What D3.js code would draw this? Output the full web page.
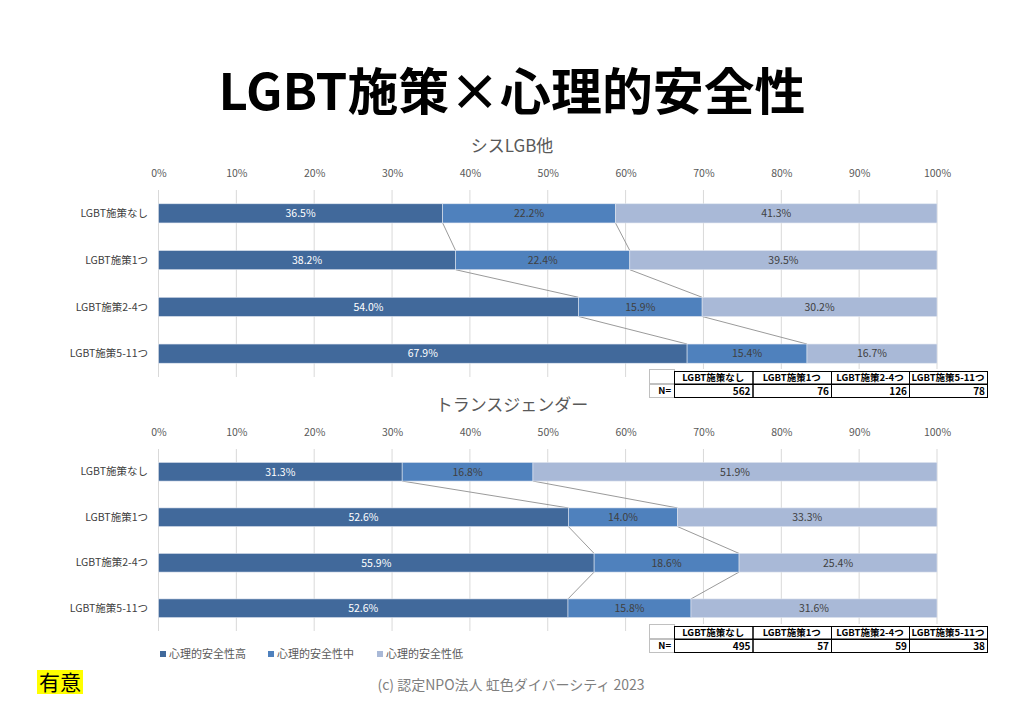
<!DOCTYPE html>
<html><head><meta charset="utf-8">
<script src="https://cdn.jsdelivr.net/npm/d3@7"></script>
<style>
body{margin:0;background:#fff;}
svg{display:block;}
text{font-family:"Noto Sans CJK JP","Noto Sans",sans-serif;}
</style></head>
<body><svg id="c" width="1024" height="726"></svg>
<script>
const categories = ["LGBT施策なし","LGBT施策1つ","LGBT施策2-4つ","LGBT施策5-11つ"];
const seriesNames = ["心理的安全性高","心理的安全性中","心理的安全性低"];
const cisHigh = [36.5,38.2,54.0,67.9];
const cisMid  = [22.2,22.4,15.9,15.4];
const cisLow  = [41.3,39.5,30.2,16.7];
const transHigh = [31.3,52.6,55.9,52.6];
const transMid  = [16.8,14.0,18.6,15.8];
const transLow  = [51.9,33.3,25.4,31.6];
const cisN = [562,76,126,78];
const transN = [495,57,59,38];
const tickValues = [0,10,20,30,40,50,60,70,80,90,100];
const colors = ["#41699B","#4F81BD","#A9B9D7"];

const svg = d3.select("#c");
const x = d3.scaleLinear().domain([0,100]).range([158.5,937]);

svg.append("text").attr("x",512).attr("y",88).attr("text-anchor","middle")
  .attr("dominant-baseline","central").attr("font-size",50).attr("font-weight",700)
  .attr("fill","#000").attr("textLength",587).attr("lengthAdjust","spacingAndGlyphs")
  .text("LGBT施策×心理的安全性");

function panel(title, titleY, tickY, top, bottom, high, mid, low, nvals, tableY){
  const g = svg.append("g");
  g.append("text").attr("x",512).attr("y",titleY).attr("text-anchor","middle")
    .attr("font-size",17).attr("fill","#595959").text(title);
  const y = d3.scaleBand().domain(categories).range([top,bottom]).paddingInner(0.59).paddingOuter(0.295);
  // gridlines
  g.append("g").selectAll("line").data(tickValues).join("line")
    .attr("x1",d=>x(d)).attr("x2",d=>x(d)).attr("y1",top).attr("y2",bottom)
    .attr("stroke","#d9d9d9").attr("stroke-width",1);
  // axis labels
  const ax = g.append("g").attr("transform",`translate(0,${tickY})`)
    .call(d3.axisTop(x).tickValues(tickValues).tickFormat(d=>d+"%").tickSize(0).tickPadding(0));
  ax.select(".domain").remove();
  ax.selectAll("text").attr("font-family",'"Noto Sans CJK JP",sans-serif').attr("font-size",10.5)
    .attr("fill","#595959").attr("dy","0.35em").attr("y",0);
  // y labels
  g.append("g").selectAll("text").data(categories).join("text")
    .attr("x",148).attr("y",d=>y(d)+y.bandwidth()/2).attr("dy","0.35em")
    .attr("text-anchor","end").attr("font-size",10.5).attr("fill","#404040").text(d=>d);
  // stacked rows
  const rows = categories.map((c,i)=>{
    const vals=[high[i],mid[i],low[i]];
    const s=d3.sum(vals);
    let acc=0;
    const segs=vals.map((v,k)=>{const a=acc; acc+=v*100/s; return {c,k,v,x0:a,x1:acc};});
    return segs;
  });
  // connector lines
  for(let i=0;i<rows.length-1;i++){
    for(let k=0;k<2;k++){
      g.append("line").attr("x1",x(rows[i][k].x1)).attr("y1",y(categories[i])+y.bandwidth())
        .attr("x2",x(rows[i+1][k].x1)).attr("y2",y(categories[i+1]))
        .attr("stroke","#8f8f8f").attr("stroke-width",0.9);
    }
  }
  const segs = rows.flat();
  g.append("g").selectAll("rect").data(segs).join("rect")
    .attr("x",d=>x(d.x0)).attr("width",d=>x(d.x1)-x(d.x0))
    .attr("y",d=>y(d.c)).attr("height",y.bandwidth())
    .attr("fill",d=>colors[d.k]).attr("stroke","#dfe5ef").attr("stroke-width",0.6);
  g.append("g").selectAll("text").data(segs).join("text")
    .attr("x",d=>x((d.x0+d.x1)/2)).attr("y",d=>y(d.c)+y.bandwidth()/2).attr("dy","0.36em")
    .attr("text-anchor","middle").attr("font-size",10.5)
    .attr("fill",d=>d.k===0?"#ffffff":"#404040").text(d=>d.v.toFixed(1)+"%");
  // table
  const t = g.append("g").attr("transform",`translate(0,${tableY})`);
  const colX=[649,674,752.5,831,909,987];
  const rowY=[0,15,29];
  t.append("rect").attr("x",colX[0]).attr("y",0).attr("width",colX[5]-colX[0]).attr("height",29).attr("fill","#fff");
  t.append("rect").attr("x",colX[0]+0.5).attr("y",0.5).attr("width",colX[1]-colX[0]).attr("height",14)
    .attr("fill","none").attr("stroke","#c0c0c0");
  t.append("rect").attr("x",colX[0]+0.5).attr("y",15.5).attr("width",colX[1]-colX[0]).attr("height",13)
    .attr("fill","none").attr("stroke","#c0c0c0");
  t.append("text").attr("x",colX[1]-3).attr("y",22).attr("dy","0.36em").attr("text-anchor","end")
    .attr("font-size",9.5).attr("font-weight",700).attr("fill","#000").text("N=");
  categories.forEach((c,i)=>{
    t.append("rect").attr("x",colX[i+1]+0.5).attr("y",2.5).attr("width",colX[i+2]-colX[i+1]).attr("height",12.5)
      .attr("fill","none").attr("stroke","#000");
    t.append("rect").attr("x",colX[i+1]+0.5).attr("y",15.5).attr("width",colX[i+2]-colX[i+1]).attr("height",13)
      .attr("fill","none").attr("stroke","#000");
    t.append("text").attr("x",(colX[i+1]+colX[i+2])/2).attr("y",9).attr("dy","0.36em").attr("text-anchor","middle")
      .attr("font-size",9.5).attr("font-weight",700).attr("fill","#000").text(c);
    t.append("text").attr("x",colX[i+2]-2).attr("y",22).attr("dy","0.36em").attr("text-anchor","end")
      .attr("font-size",10).attr("font-weight",700).attr("fill","#000").text(nvals[i]);
  });
}

panel("シスLGB他",152,173,190,377,cisHigh,cisMid,cisLow,cisN,369);
panel("トランスジェンダー",411,432,449,631,transHigh,transMid,transLow,transN,624);

// legend
const legX=[160,268,377];
const leg = svg.append("g").selectAll("g").data(seriesNames).join("g")
  .attr("transform",(d,i)=>`translate(${legX[i]},654)`);
leg.append("rect").attr("x",0).attr("y",-3).attr("width",6).attr("height",6).attr("fill",(d,i)=>colors[i]);
leg.append("text").attr("x",9).attr("y",0).attr("dy","0.36em").attr("font-size",11).attr("fill","#595959").text(d=>d);

svg.append("rect").attr("x",37).attr("y",670).attr("width",46).attr("height",24).attr("fill","#ffff00");
svg.append("text").attr("x",60).attr("y",682).attr("dy","0.36em").attr("text-anchor","middle")
  .attr("font-size",21).attr("fill","#000").text("有意");
svg.append("text").attr("x",511).attr("y",685).attr("dy","0.36em").attr("text-anchor","middle")
  .attr("font-size",14).attr("fill","#7f7f7f").text("(c) 認定NPO法人 虹色ダイバーシティ 2023");
</script></body></html>
